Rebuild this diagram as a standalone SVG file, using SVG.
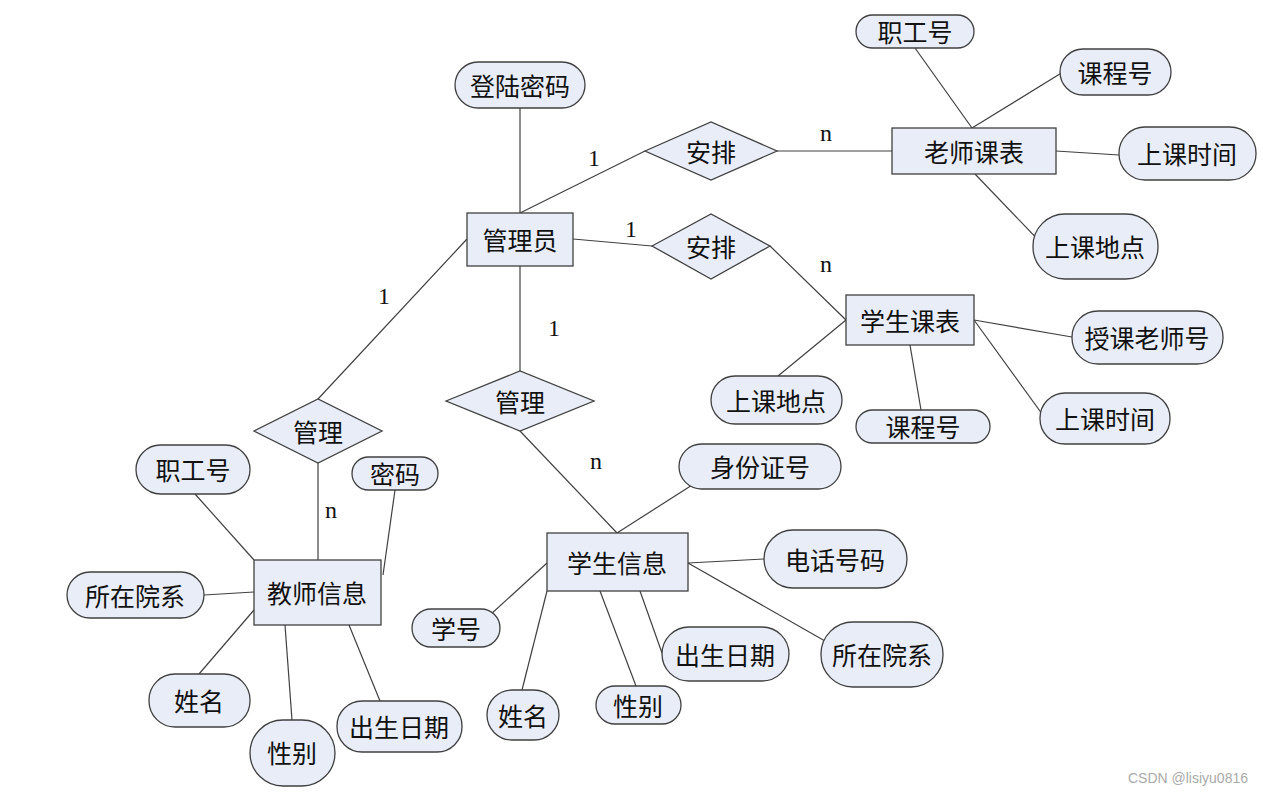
<svg xmlns="http://www.w3.org/2000/svg" width="1263" height="795" viewBox="0 0 1263 795">
<style>
.s{fill:#e8edf7;stroke:#404040;stroke-width:1.3}
.t{font-family:"Noto Sans CJK SC",sans-serif;font-size:25px;fill:#111;text-anchor:middle;dominant-baseline:central}
.c line{stroke:#404040;stroke-width:1.2}
.l{font-family:"Liberation Serif",serif;font-size:24px;fill:#111;text-anchor:middle}
</style>
<rect width="1263" height="795" fill="#fff"/>
<g class="c" id="connectors">
<line x1="520" y1="108" x2="520" y2="213"/>
<line x1="520" y1="213" x2="645" y2="151"/>
<line x1="777" y1="151" x2="892" y2="151"/>
<line x1="915" y1="48" x2="972" y2="128"/>
<line x1="1063" y1="72" x2="972" y2="128"/>
<line x1="1056" y1="151" x2="1119" y2="155"/>
<line x1="975" y1="174" x2="1045" y2="247"/>
<line x1="573" y1="239" x2="652" y2="246"/>
<line x1="770" y1="246" x2="846" y2="320"/>
<line x1="974" y1="320" x2="1072" y2="337"/>
<line x1="974" y1="320" x2="1045" y2="418"/>
<line x1="910" y1="345" x2="921" y2="410"/>
<line x1="846" y1="320" x2="778" y2="376"/>
<line x1="520" y1="266" x2="520" y2="371"/>
<line x1="520" y1="431" x2="617" y2="533"/>
<line x1="700" y1="480" x2="617" y2="533"/>
<line x1="764" y1="559" x2="688" y2="563"/>
<line x1="688" y1="563" x2="832" y2="645"/>
<line x1="662" y1="653" x2="640" y2="591"/>
<line x1="636" y1="686" x2="600" y2="591"/>
<line x1="522" y1="690" x2="547" y2="591"/>
<line x1="490" y1="615" x2="547" y2="563"/>
<line x1="467" y1="239" x2="318" y2="399"/>
<line x1="318" y1="463" x2="318" y2="560"/>
<line x1="395" y1="490" x2="383" y2="575"/>
<line x1="195" y1="494" x2="254" y2="560"/>
<line x1="204" y1="595" x2="254" y2="592"/>
<line x1="199" y1="674" x2="254" y2="610"/>
<line x1="292" y1="720" x2="285" y2="625"/>
<line x1="380" y1="701" x2="349" y2="625"/>
</g>
<g id="labels">
<text class="l" x="594" y="166">1</text>
<text class="l" x="826" y="141">n</text>
<text class="l" x="631" y="237">1</text>
<text class="l" x="826" y="272">n</text>
<text class="l" x="554" y="336">1</text>
<text class="l" x="596" y="469">n</text>
<text class="l" x="384" y="304">1</text>
<text class="l" x="331" y="518">n</text>
</g>
<g id="管理员"><rect class="s" x="467" y="213" width="106" height="53"/><text class="t" x="520" y="239">管理员</text></g>
<g id="老师课表"><rect class="s" x="892" y="128" width="164" height="46"/><text class="t" x="974" y="151">老师课表</text></g>
<g id="学生课表"><rect class="s" x="846" y="295" width="128" height="50"/><text class="t" x="910" y="320">学生课表</text></g>
<g id="学生信息"><rect class="s" x="547" y="533" width="141" height="58"/><text class="t" x="617" y="562">学生信息</text></g>
<g id="教师信息"><rect class="s" x="254" y="560" width="127" height="65"/><text class="t" x="317" y="592">教师信息</text></g>
<g id="安排1"><polygon class="s" points="645,151 711,122 777,151 711,180"/><text class="t" x="711" y="151">安排</text></g>
<g id="安排2"><polygon class="s" points="652,246 711,214 770,246 711,279"/><text class="t" x="711" y="246">安排</text></g>
<g id="管理1"><polygon class="s" points="446,401 520,371 594,401 520,431"/><text class="t" x="520" y="401">管理</text></g>
<g id="管理2"><polygon class="s" points="254,431 318,399 382,431 318,463"/><text class="t" x="318" y="431">管理</text></g>
<g id="登陆密码"><rect class="s" x="455" y="62" width="130" height="46" rx="23"/><text class="t" x="520" y="85">登陆密码</text></g>
<g id="职工号1"><rect class="s" x="856" y="15" width="118" height="33" rx="16.5"/><text class="t" x="915" y="31">职工号</text></g>
<g id="课程号1"><rect class="s" x="1060" y="49" width="111" height="46" rx="23"/><text class="t" x="1115" y="72">课程号</text></g>
<g id="上课时间1"><rect class="s" x="1119" y="127" width="137" height="53" rx="26"/><text class="t" x="1187" y="153">上课时间</text></g>
<g id="上课地点1"><rect class="s" x="1033" y="214" width="125" height="65" rx="32"/><text class="t" x="1095" y="246">上课地点</text></g>
<g id="授课老师号"><rect class="s" x="1072" y="311" width="151" height="53" rx="26"/><text class="t" x="1147" y="337">授课老师号</text></g>
<g id="上课时间2"><rect class="s" x="1040" y="393" width="130" height="51" rx="25"/><text class="t" x="1105" y="418">上课时间</text></g>
<g id="课程号2"><rect class="s" x="856" y="410" width="134" height="33" rx="16.5"/><text class="t" x="923" y="426">课程号</text></g>
<g id="上课地点2"><rect class="s" x="711" y="376" width="131" height="48" rx="24"/><text class="t" x="776" y="400">上课地点</text></g>
<g id="身份证号"><rect class="s" x="679" y="444" width="162" height="45" rx="22.5"/><text class="t" x="760" y="466">身份证号</text></g>
<g id="电话号码"><rect class="s" x="764" y="530" width="143" height="58" rx="29"/><text class="t" x="835" y="559">电话号码</text></g>
<g id="所在院系1"><rect class="s" x="821" y="622" width="122" height="65" rx="32"/><text class="t" x="882" y="654">所在院系</text></g>
<g id="出生日期1"><rect class="s" x="662" y="627" width="127" height="54" rx="27"/><text class="t" x="725" y="654">出生日期</text></g>
<g id="性别1"><rect class="s" x="596" y="686" width="85" height="38" rx="19"/><text class="t" x="638" y="705">性别</text></g>
<g id="姓名1"><rect class="s" x="487" y="690" width="72" height="50" rx="25"/><text class="t" x="523" y="715">姓名</text></g>
<g id="学号"><rect class="s" x="412" y="609" width="88" height="38" rx="19"/><text class="t" x="456" y="628">学号</text></g>
<g id="密码"><rect class="s" x="352" y="457" width="86" height="33" rx="16.5"/><text class="t" x="395" y="473">密码</text></g>
<g id="职工号2"><rect class="s" x="136" y="445" width="114" height="49" rx="24.5"/><text class="t" x="193" y="469">职工号</text></g>
<g id="所在院系2"><rect class="s" x="67" y="572" width="137" height="46" rx="23"/><text class="t" x="135" y="595">所在院系</text></g>
<g id="姓名2"><rect class="s" x="149" y="674" width="101" height="53" rx="26"/><text class="t" x="199" y="700">姓名</text></g>
<g id="性别2"><rect class="s" x="250" y="720" width="85" height="66" rx="33"/><text class="t" x="292" y="752">性别</text></g>
<g id="出生日期2"><rect class="s" x="337" y="701" width="125" height="51" rx="25"/><text class="t" x="399" y="726">出生日期</text></g>
<text x="1248" y="783" font-family="Liberation Sans,sans-serif" font-size="14" fill="#aaa" text-anchor="end">CSDN @lisiyu0816</text>
</svg>
